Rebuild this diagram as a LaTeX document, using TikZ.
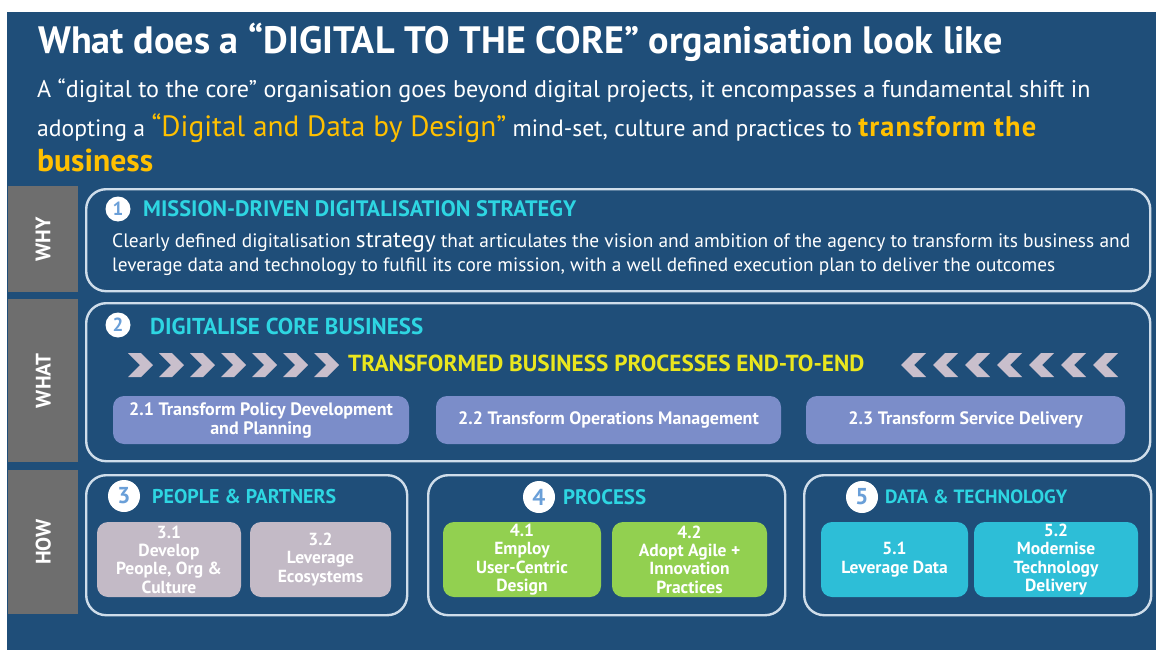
\documentclass[tikz,border=0pt]{standalone}
\usepackage{fontspec}
\setmainfont{PT Sans}
\usepackage{graphicx}

\definecolor{bgblue}{HTML}{1F4E79}
\definecolor{tabgray}{HTML}{6E6E6E}
\definecolor{framec}{HTML}{CFDDEA}
\definecolor{headcyan}{HTML}{2ED6E2}
\definecolor{numblue}{HTML}{6A9FD8}
\definecolor{gold}{HTML}{FFC000}
\definecolor{lemon}{HTML}{EAE61E}
\definecolor{chevc}{HTML}{C9BFCC}
\definecolor{whatbox}{HTML}{7B8DC9}
\definecolor{peoplebox}{HTML}{C3BAC6}
\definecolor{procbox}{HTML}{92D050}
\definecolor{databox}{HTML}{2DBED7}

% scale a line of text to a given width (in pt)
\newcommand{\fitw}[2]{\resizebox{#1pt}{!}{#2}}

\tikzset{
  frame/.style={draw=framec, line width=2.4pt, rounded corners=20pt, anchor=north west, inner sep=0pt},
  tab/.style={fill=tabgray, anchor=north west, inner sep=0pt},
  tablabel/.style={rotate=90, text=white, font=\bfseries\fontsize{21}{21}\selectfont, inner sep=0pt},
  numdot/.style={circle, fill=white, text=numblue, inner sep=0pt, font=\bfseries},
  head/.style={anchor=base west, inner sep=0pt, text=headcyan, font=\bfseries},
  line/.style={anchor=base west, inner sep=0pt, text=white},
  subbox/.style={rounded corners=11pt, inner sep=0pt, align=center, text=white,
                 font=\bfseries\fontsize{17.5}{18.4}\selectfont},
  wbox/.style={subbox, fill=whatbox, minimum height=48pt,
                 font=\bfseries\fontsize{18}{19}\selectfont},
  chev/.style={fill=chevc}
}

\begin{document}
\begin{tikzpicture}[x=1pt, y=-1pt]
\useasboundingbox (0,0) rectangle (1156,650);
\fill[white] (0,0) rectangle (1156,650);
\fill[bgblue] (7,12) rectangle (1156,650);

% heading block
\node[line, font=\bfseries] (title) at (38,54)
  {\fitw{964}{What does a “DIGITAL TO THE CORE” organisation look like}};
\node[line] (intro1) at (37,98)
  {\fitw{1053}{A “digital to the core” organisation goes beyond digital projects, it encompasses a fundamental shift in}};
\node[line] (intro2) at (37,136)
  {\fitw{999}{adopting a \textcolor{gold}{\fontsize{12.4}{12}\selectfont “Digital and Data by Design”} mind-set, culture and practices to \textcolor{gold}{\fontsize{12}{12}\selectfont\bfseries\addfontfeature{LetterSpace=4}transform the}}};
\node[line, text=gold, font=\bfseries] (intro3) at (37,171)
  {\fitw{116}{business}};

% side tabs
\node[tab, minimum width=70pt, minimum height=106pt] (tabwhy) at (8,186) {};
\node[tab, minimum width=70pt, minimum height=163pt] (tabwhat) at (8,299) {};
\node[tab, minimum width=70pt, minimum height=144pt] (tabhow) at (8,470) {};
\node[tablabel] (lwhy) at (tabwhy.center) {WHY};
\node[tablabel] (lwhat) at (tabwhat.center) {WHAT};
\node[tablabel] (lhow) at (tabhow.center) {HOW};

% 1 -- why
\node[frame, minimum width=1064pt, minimum height=102pt] (why) at (85,188) {};
\node[numdot, minimum size=25pt, font=\bfseries\fontsize{19}{19}\selectfont] (n1) at (118,209) {1};
\node[head] (h1) at (143,216) {\fitw{433}{MISSION-DRIVEN DIGITALISATION STRATEGY}};
\node[line] (why1) at (112,247)
  {\fitw{1018}{Clearly defined digitalisation {\fontsize{12}{12}\selectfont strategy} that articulates the vision and ambition of the agency to transform its business and}};
\node[line] (why2) at (112,271)
  {\fitw{943}{leverage data and technology to fulfill its core mission, with a well defined execution plan to deliver the outcomes}};

% 2 -- what
\node[frame, minimum width=1064pt, minimum height=158pt] (what) at (85,302) {};
\node[numdot, minimum size=25pt, font=\bfseries\fontsize{19}{19}\selectfont] (n2) at (118,325) {2};
\node[head] (h2) at (150,334) {\fitw{273}{DIGITALISE CORE BUSINESS}};
\foreach \i in {0,...,6}
  \fill[chev] ({128+31*\i},353) -- ++(13,0) -- ++(12,12) -- ++(-12,12) -- ++(-13,0) -- ++(12,-12) -- cycle;
\foreach \i in {0,...,6}
  \fill[chev] ({926+32*\i},353) -- ++(-13,0) -- ++(-12,12) -- ++(12,12) -- ++(13,0) -- ++(-12,-12) -- cycle;
\node[head, text=lemon] (flow) at (348,371) {\fitw{516}{TRANSFORMED BUSINESS PROCESSES END-TO-END}};
\node[wbox, minimum width=296pt] (s21) at (261,420)
  {2.1 Transform Policy Development\\and Planning};
\node[wbox, minimum width=345pt] (s22) at (608.5,420)
  {2.2 Transform Operations Management};
\node[wbox, minimum width=319pt] (s23) at (965.5,420)
  {2.3 Transform Service Delivery};

% 3 -- people & partners
\node[frame, minimum width=321pt, minimum height=140pt] (how3) at (85,474) {};
\node[numdot, minimum size=32pt, font=\bfseries\fontsize{23}{23}\selectfont] (n3) at (124,496) {3};
\node[head] (h3) at (152,503) {\fitw{184}{PEOPLE \& PARTNERS}};
\node[subbox, fill=peoplebox, minimum width=144pt, minimum height=75pt] (s31) at (169,559.5)
  {3.1\\Develop\\People, Org \&\\Culture};
\node[subbox, fill=peoplebox, minimum width=141pt, minimum height=75pt] (s32) at (320.5,559.5)
  {3.2\\Leverage\\Ecosystems};

% 4 -- process
\node[frame, minimum width=357pt, minimum height=140pt] (how4) at (427,474) {};
\node[numdot, minimum size=32pt, font=\bfseries\fontsize{23}{23}\selectfont] (n4) at (539,497) {4};
\node[head] (h4) at (563,504) {\fitw{83}{PROCESS}};
\node[subbox, fill=procbox, minimum width=158pt, minimum height=75pt] (s41) at (522,559.5)
  {4.1\\Employ\\User-Centric\\Design};
\node[subbox, fill=procbox, minimum width=155pt, minimum height=75pt] (s42) at (689.5,559.5)
  {4.2\\Adopt Agile +\\Innovation\\Practices};

% 5 -- data & technology
\node[frame, minimum width=347pt, minimum height=140pt] (how5) at (803,474) {};
\node[numdot, minimum size=32pt, font=\bfseries\fontsize{23}{23}\selectfont] (n5) at (862,497) {5};
\node[head] (h5) at (885,503) {\fitw{182}{DATA \& TECHNOLOGY}};
\node[subbox, fill=databox, minimum width=147pt, minimum height=75pt] (s51) at (894.5,559.5)
  {5.1\\Leverage Data};
\node[subbox, fill=databox, minimum width=164pt, minimum height=75pt] (s52) at (1056,559.5)
  {5.2\\Modernise\\Technology\\Delivery};
\end{tikzpicture}
\end{document}
